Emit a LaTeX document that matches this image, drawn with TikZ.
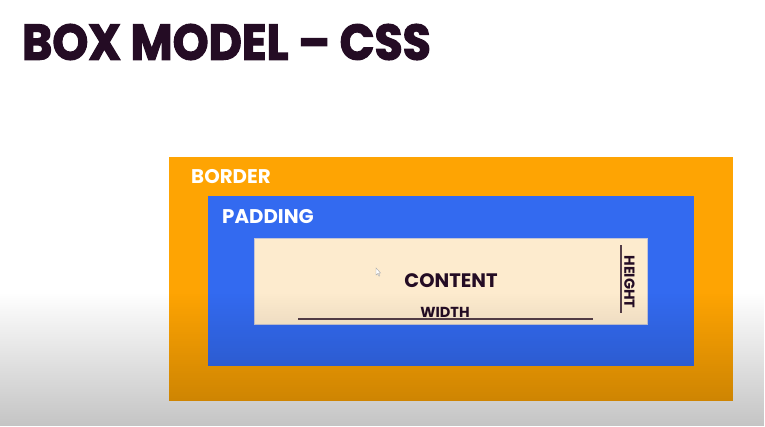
\documentclass[tikz,border=0pt]{standalone}
\usepackage{fontspec}
\setmainfont{Poppins}
\newfontfamily\headfont{Poppins}[BoldFeatures={FakeBold=2.5}]
\usetikzlibrary{fadings}

\definecolor{inkpurple}{RGB}{36,12,36}
\definecolor{borderorange}{RGB}{254,164,3}
\definecolor{paddingblue}{RGB}{51,106,240}
\definecolor{contentcream}{RGB}{253,235,206}
\definecolor{rulecolor}{RGB}{85,62,72}

\tikzfading[name=darkenbottom, top color=transparent!100, bottom color=transparent!0]

\tikzset{
  layer/.style={rectangle, inner sep=0pt, outer sep=0pt},
  boxlabel/.style={text=white, font=\bfseries\fontsize{19.8}{19.8}\selectfont, inner sep=0pt, anchor=west},
  dimlabel/.style={text=inkpurple, font=\bfseries\fontsize{14.5}{14.5}\selectfont, inner sep=0pt},
  dimline/.style={draw=rulecolor, line width=1.6pt}
}

\begin{document}
\begin{tikzpicture}[x=1pt,y=-1pt]
  \useasboundingbox (0,0) rectangle (765,426);
  \fill[white] (0,0) rectangle (765,426);

  % heading
  \node[anchor=west, inner sep=0pt, text=inkpurple, xscale=0.915,
        font=\headfont\bfseries\fontsize{50}{50}\selectfont] (title) at (22,42) {BOX MODEL – CSS};

  % the three nested layers of the box model
  \node[layer, fill=borderorange, minimum width=564pt, minimum height=244pt] (border) at (451,279) {};
  \node[layer, fill=paddingblue, minimum width=486pt, minimum height=170pt] (padding) at (451,281) {};
  \node[layer, fill=contentcream, draw=blue!15!gray!40, line width=0.8pt,
        minimum width=393pt, minimum height=86pt] (content) at (450.5,281) {};

  \node[boxlabel] (borderlabel) at (191,177) {BORDER};
  \node[boxlabel] (paddinglabel) at (222,217) {PADDING};
  \node[text=inkpurple, font=\bfseries\fontsize{19.5}{19.5}\selectfont, inner sep=0pt] (contentlabel) at (451,281) {CONTENT};

  % width dimension
  \coordinate (wl) at (298,319);
  \coordinate (wr) at (593,319);
  \draw[dimline] (wl) -- (wr);
  \node[dimlabel] (widthlabel) at (445,312) {WIDTH};

  % height dimension
  \coordinate (ht) at (621,245);
  \coordinate (hb) at (621,313);
  \draw[dimline] (ht) -- (hb);
  \node[dimlabel, rotate=-90] (heightlabel) at (629.5,282) {HEIGHT};

  % mouse pointer
  \draw[gray!70, line width=0.4pt, fill=white]
    (376,268) -- (376,275) -- (377.6,273.6) -- (379,276.2) -- (379.9,275.8) -- (378.6,273.2) -- (380.6,273) -- cycle;

  % soft darkening towards the bottom edge
  \fill[black, opacity=0.23, path fading=darkenbottom] (0,292) rectangle (765,426);
\end{tikzpicture}
\end{document}
